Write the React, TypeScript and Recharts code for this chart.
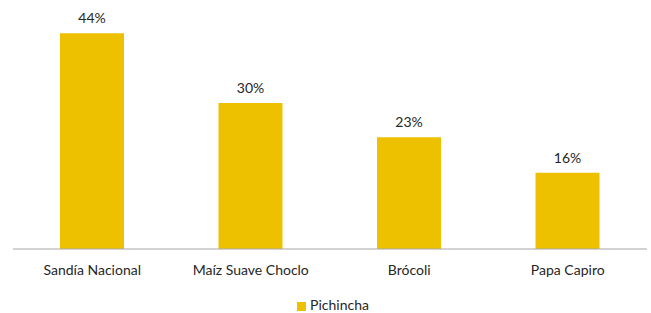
import React from "react";
import { BarChart, Bar, XAxis, YAxis, Legend, LabelList } from "recharts";

const categories = ["Sandía Nacional", "Maíz Suave Choclo", "Brócoli", "Papa Capiro"];
const pichincha = [44.2, 29.9, 22.9, 15.6];

const data = categories.map((c, i) => ({ name: c, Pichincha: pichincha[i] }));

const FONT = "Lato, 'Open Sans', sans-serif";

export default function App() {
  return (
    <div style={{ position: "absolute", left: 0, top: 0, background: "#fff" }}>
      <BarChart
        width={651}
        height={313}
        data={data}
        margin={{ top: 5, right: 4, left: 13, bottom: 14 }}
        barCategoryGap="30%"
      >
        <XAxis
          dataKey="name"
          tickLine={false}
          tickSize={0}
          tickMargin={16}
          axisLine={{ stroke: "#a6a6a6", strokeWidth: 1 }}
          tick={{ fill: "#262626", fontSize: 14, fontFamily: FONT }}
          interval={0}
        />
        <YAxis hide domain={[0, 50]} />
        <Legend
          verticalAlign="bottom"
          iconType="square"
          iconSize={9}
          wrapperStyle={{ bottom: -2, paddingLeft: 8, fontFamily: FONT, fontSize: 14, lineHeight: "20px" }}
          formatter={(v: string) => <span style={{ color: "#262626" }}>{v}</span>}
        />
        <Bar dataKey="Pichincha" fill="#EDC100" barSize={64} isAnimationActive={false}>
          <LabelList
            dataKey="Pichincha"
            position="top"
            offset={10}
            formatter={(v: number) => `${Math.round(v)}%`}
            style={{ fill: "#262626", fontSize: 14, fontFamily: FONT }}
          />
        </Bar>
      </BarChart>
    </div>
  );
}
